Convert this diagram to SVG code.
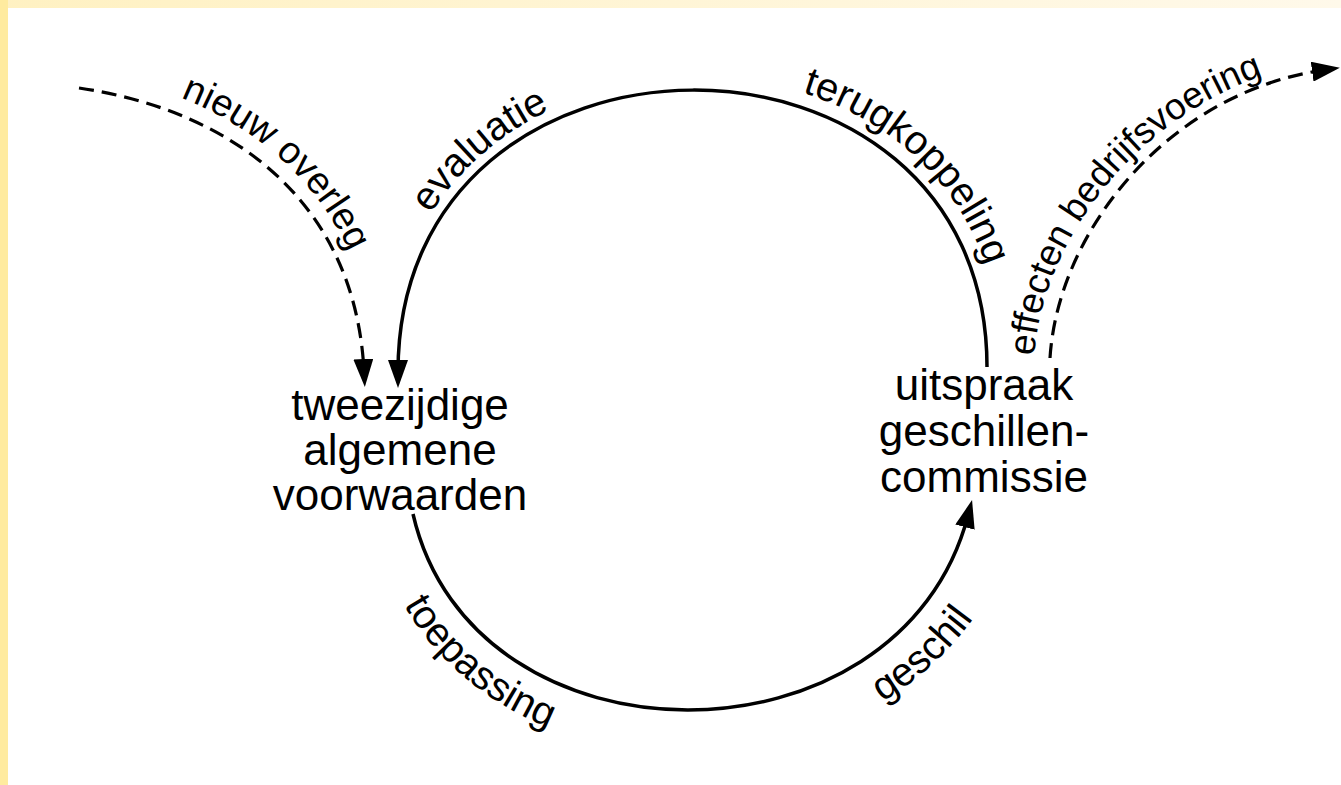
<svg xmlns="http://www.w3.org/2000/svg" width="1341" height="785" viewBox="0 0 1341 785">
<defs>
<linearGradient id="topband" x1="0" y1="0" x2="1" y2="0">
<stop offset="0" stop-color="#fff1c2"/>
<stop offset="1" stop-color="#fff9ea"/>
</linearGradient>
<marker id="ah" markerWidth="28" markerHeight="20" refX="12" refY="10" orient="auto" markerUnits="userSpaceOnUse">
<path d="M0,0 L28,10 L0,20 z" fill="#000"/>
</marker>
<path id="p-top" d="M383,388 C383,-23 1002,-23 1002,367"/>
<path id="p-bot" d="M372,524 C441,828 930,840 1024,514"/>
<path id="p-nieuw" d="M81,72 C238,94 371,190 381,387"/>
<path id="p-eff" d="M1034,358 C1042,228 1160,80 1338,58"/>
</defs>
<style>
.solid{fill:none;stroke:#000;stroke-width:3.5}
.dash{fill:none;stroke:#000;stroke-width:3.2;stroke-dasharray:15 8}
.node{font-family:"Liberation Sans",Arial,sans-serif;font-size:44px;fill:#000;text-anchor:middle}
.lbl{font-family:"Liberation Sans",Arial,sans-serif;font-size:40px;fill:#000}
.lbl-s{font-size:38px}
</style>
<rect x="0" y="0" width="1341" height="785" fill="#fff"/>
<rect x="0" y="0" width="1341" height="8" fill="url(#topband)"/>
<rect x="0" y="0" width="8" height="785" fill="#ffeb9f"/>
<g id="connectors">
<path class="solid" d="M987,367 C987,-3 398,-3 398,372" marker-end="url(#ah)"/>
<path class="solid" d="M413,514 C473,775 900,775 968,515.5" marker-end="url(#ah)"/>
<path class="dash" d="M79,88 C230,110 355,200 364,371" marker-end="url(#ah)"/>
<path class="dash" d="M1050,358 C1058,230 1170,92 1324,70" marker-end="url(#ah)"/>
</g>
<g id="labels">
<text class="lbl" text-anchor="middle"><textPath href="#p-top" startOffset="263">evaluatie</textPath></text>
<text class="lbl" text-anchor="middle"><textPath href="#p-top" startOffset="733">terugkoppeling</textPath></text>
<text class="lbl" text-anchor="middle"><textPath href="#p-bot" startOffset="184">toepassing</textPath></text>
<text class="lbl" text-anchor="middle"><textPath href="#p-bot" startOffset="690">geschil</textPath></text>
<text class="lbl lbl-s"><textPath href="#p-nieuw" startOffset="103">nieuw overleg</textPath></text>
<text class="lbl" style="font-size:37px"><textPath href="#p-eff" startOffset="2">effecten bedrijfsvoering</textPath></text>
</g>
<g id="node-voorwaarden">
<text class="node" x="400" y="420">tweezijdige</text>
<text class="node" x="400" y="465">algemene</text>
<text class="node" x="400" y="510">voorwaarden</text>
</g>
<g id="node-uitspraak">
<text class="node" x="984" y="400">uitspraak</text>
<text class="node" x="984" y="446">geschillen-</text>
<text class="node" x="984" y="492">commissie</text>
</g>
</svg>
